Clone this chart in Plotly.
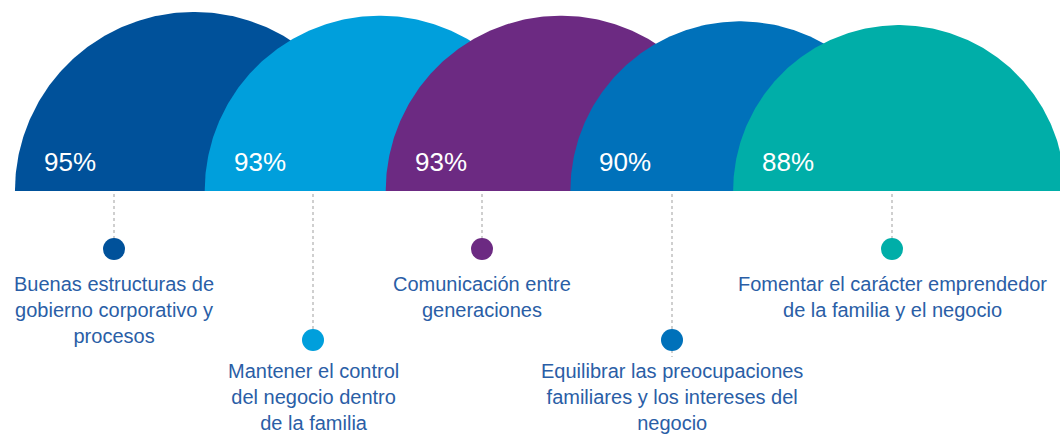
import numpy as np
import plotly.graph_objects as go

# ---- data ----
categories = [
    "Buenas estructuras de<br>gobierno corporativo y<br>procesos",
    "Mantener el control<br>del negocio dentro<br>de la familia",
    "Comunicación entre<br>generaciones",
    "Equilibrar las preocupaciones<br>familiares y los intereses del<br>negocio",
    "Fomentar el carácter emprendedor<br>de la familia y el negocio",
]
values = [95, 93, 93, 90, 88]
value_labels = ["95%", "93%", "93%", "90%", "88%"]

# ---- layout / style ----
colors = ["#00519a", "#009fdc", "#6c2a82", "#0071ba", "#00aea8"]
centers_x = [194, 380, 561, 740, 899]     # centre of each semicircle
label_x = [114, 313, 482, 672, 892]       # centre of each description
row = [0, 1, 0, 1, 0]                     # upper / lower description row
line_end = [-58, -149, -58, -166, -58]    # where each dotted leader stops
scale = 1.885                             # radius per percentage point
W, H = 1060, 434
BASE = 191                                # baseline px from top

fig = go.Figure()

t = np.linspace(0, np.pi, 240)
for v, cx, c in zip(values, centers_x, colors):
    r = v * scale
    xs = np.concatenate([cx + r * np.cos(t), [cx + r]])
    ys = np.concatenate([r * np.sin(t), [0]])
    fig.add_trace(go.Scatter(x=xs, y=ys, mode="lines", fill="toself",
                             fillcolor=c, line=dict(width=0, color=c),
                             hoverinfo="skip", showlegend=False))

dot_y = [-58, -149]
text_top = [-80, -167]
for i, (v, cx, c) in enumerate(zip(values, centers_x, colors)):
    r = v * scale
    left = cx - r
    fig.add_annotation(x=left + 27, y=29, xref="x", yref="y", text=value_labels[i],
                       showarrow=False, xanchor="left", yanchor="middle",
                       font=dict(size=26, color="white", family="Liberation Sans, Arial"))
    lx = label_x[i]
    dy = dot_y[row[i]]
    fig.add_trace(go.Scatter(x=[lx, lx], y=[-3, line_end[i]], mode="lines",
                             line=dict(color="#cfcfcf", width=2, dash="dot"),
                             hoverinfo="skip", showlegend=False))
    fig.add_trace(go.Scatter(x=[lx], y=[dy], mode="markers",
                             marker=dict(size=22, color=c),
                             hoverinfo="skip", showlegend=False))
    fig.add_annotation(x=lx, y=text_top[row[i]], xref="x", yref="y", text=categories[i],
                       showarrow=False, xanchor="center", yanchor="top", align="center",
                       font=dict(size=20, color="#2a5ea6", family="Liberation Sans, Arial"))

fig.update_layout(
    width=W, height=H, margin=dict(l=0, r=0, t=0, b=0),
    paper_bgcolor="white", plot_bgcolor="white",
    xaxis=dict(range=[0, W], visible=False, fixedrange=True),
    yaxis=dict(range=[BASE - H, BASE], visible=False, fixedrange=True),
    showlegend=False,
)

fig.write_html("out.html", config={"displayModeBar": False},
               post_script="document.body.style.margin='0';document.body.style.padding='0';document.body.style.overflow='hidden';")
